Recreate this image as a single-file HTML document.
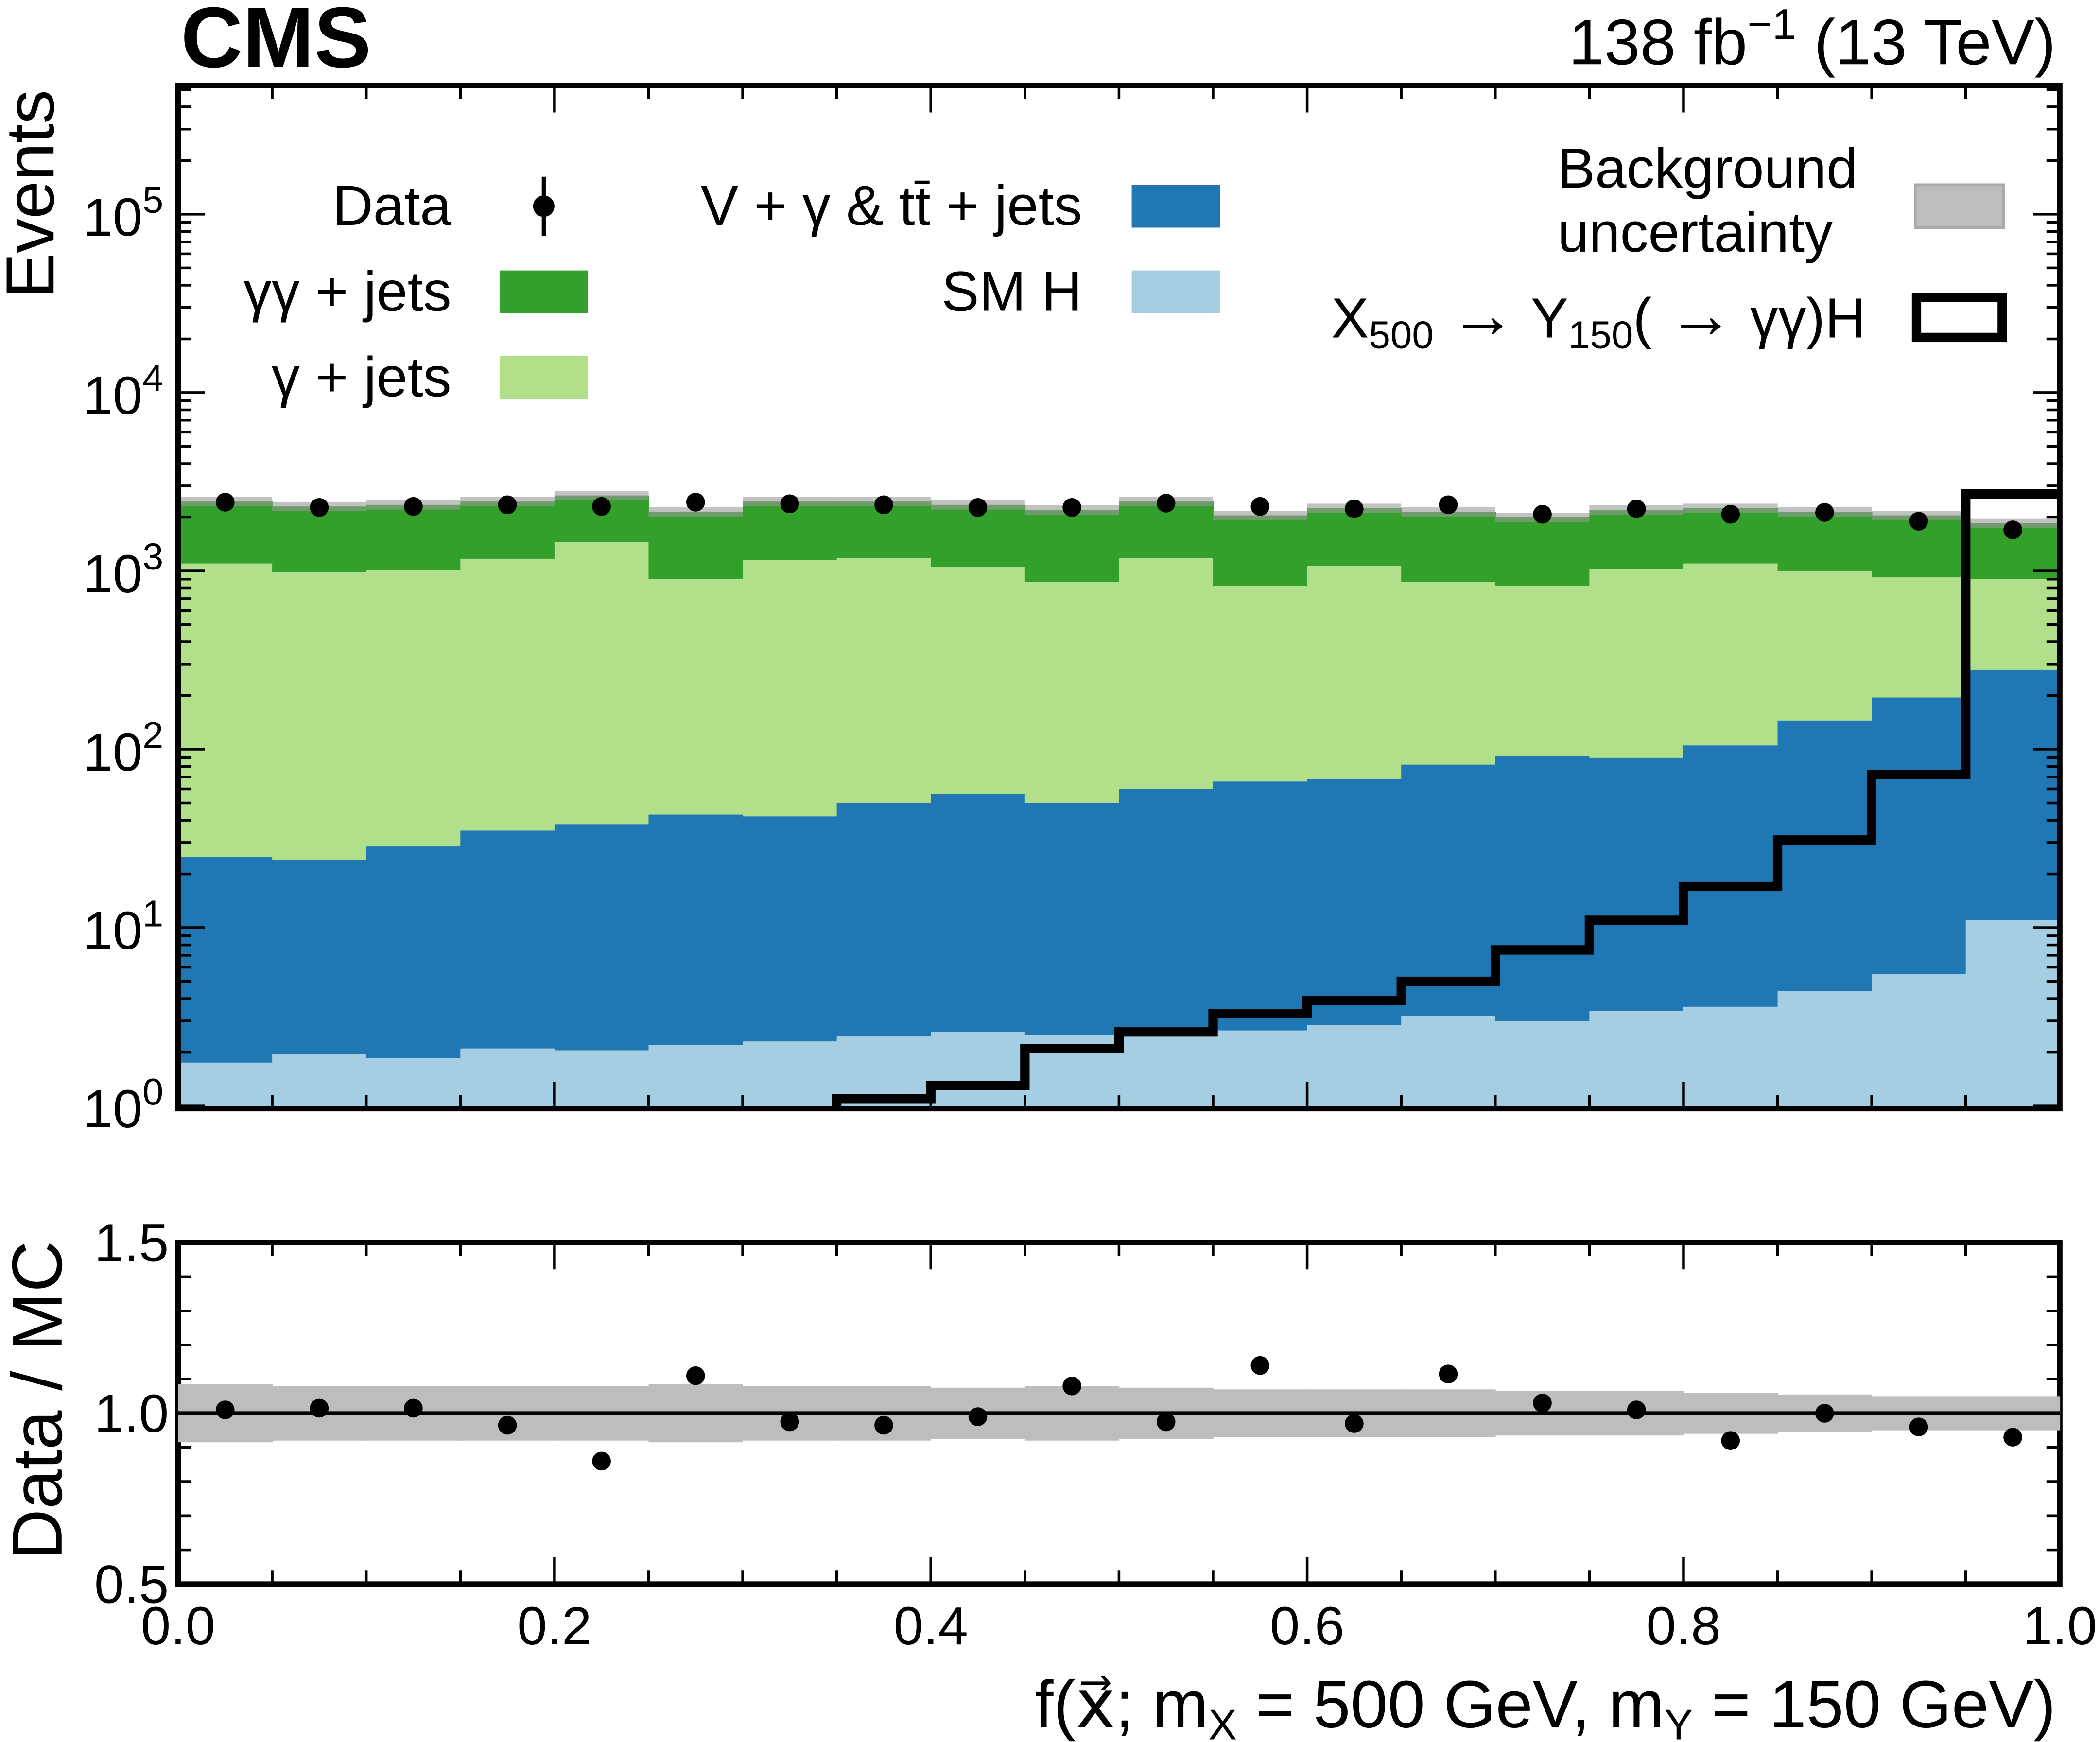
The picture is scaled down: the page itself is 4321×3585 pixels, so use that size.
<!DOCTYPE html>
<html><head><meta charset="utf-8"><style>
html,body{margin:0;padding:0;background:#fff}
svg{display:block}
text{font-family:"Liberation Sans",sans-serif;fill:#000}
</style></head><body>
<svg id="c" width="4321" height="3585" viewBox="0 0 1568 1301" preserveAspectRatio="none" xmlns="http://www.w3.org/2000/svg">
<text x="135" y="50" font-size="64" font-weight="bold">CMS</text>
<text x="1535" y="48" font-size="48" text-anchor="end">138 fb<tspan dy="-19" font-size="32">−1</tspan><tspan dy="19"> (13 TeV)</tspan></text>
<text transform="translate(40,145) rotate(-90)" font-size="51" text-anchor="middle">Events</text>
<text transform="translate(46,1046) rotate(-90)" font-size="53" text-anchor="middle">Data / MC</text>
<text x="1535" y="1290" font-size="50" text-anchor="end">f(x⃗; m<tspan font-size="32" dy="9">X</tspan><tspan dy="-9"> = 500 GeV, m</tspan><tspan font-size="32" dy="9">Y</tspan><tspan dy="-9"> = 150 GeV)</tspan></text>
<g id="main"></g><g id="ratio"></g><g id="legend"></g>
</svg>
<script>
const smH=[1.75,1.95,1.85,2.1,2.05,2.2,2.3,2.45,2.6,2.5,2.55,2.65,2.85,3.2,3.0,3.4,3.6,4.4,5.5,11];
const vgTop=[25,24,28.5,35,38,43,42,50,56,50,60,66,68,82,92,90,105,145,195,280];
const gjTop=[1100,980,1010,1170,1450,900,1150,1180,1050,870,1180,820,1070,870,820,1020,1100,1000,920,900];
const totTop=[2450,2300,2350,2450,2650,2150,2450,2450,2350,2200,2450,2050,2250,2150,2000,2200,2250,2150,2050,1850];
const dataVals=[2430,2270,2300,2350,2300,2430,2380,2350,2270,2270,2400,2300,2230,2350,2080,2230,2080,2130,1900,1700];
const signal=[0.5,0.5,0.5,0.5,0.5,0.5,0.5,1.1,1.3,2.1,2.6,3.3,3.9,5.0,7.5,11,17,31,72,2700];
const ratioVals=[1.01,1.015,1.015,0.965,0.86,1.11,0.975,0.965,0.99,1.08,0.975,1.14,0.97,1.115,1.03,1.01,0.92,1.0,0.96,0.93];
const ratioUnc=[0.085,0.08,0.08,0.08,0.08,0.085,0.08,0.08,0.075,0.08,0.075,0.07,0.07,0.07,0.065,0.065,0.06,0.055,0.05,0.05];
const relUnc=0.06;
const NS="http://www.w3.org/2000/svg";
const L=133,R=1538,T=64,B=828,RT=928,RB=1183;
const X=v=>L+(R-L)*v;
const Y=v=>826-133.2*Math.log10(v);
const YR=v=>RT+(RB-RT)*(1.5-v);
function el(p,tag,a){const e=document.createElementNS(NS,tag);for(const k in a)e.setAttribute(k,a[k]);p.appendChild(e);return e;}
const main=document.getElementById('main'),ratio=document.getElementById('ratio'),leg=document.getElementById('legend');
const clipD=el(main,'defs',{});const cp=el(clipD,'clipPath',{id:'cp'});el(cp,'rect',{x:L,y:T,width:R-L,height:B-T});
const g=el(main,'g',{'clip-path':'url(#cp)'});
const n=smH.length,w=1/n;
for(let i=0;i<n;i++){
 const x0=X(i*w),x1=X((i+1)*w);
 const layers=[[totTop[i],gjTop[i],'#33a02c','gg-jets'],[gjTop[i],vgTop[i],'#b2df8a','g-jets'],[vgTop[i],smH[i],'#1f78b4','vg-ttjets'],[smH[i],0.5,'#a6cee3','sm-h']];
 for(const [top,bot,c,nm] of layers){
  const r=el(g,'rect',{x:x0,y:Y(top),width:x1-x0+0.5,height:Y(bot)-Y(top),fill:c});
  
  
 }
 const u=el(g,'rect',{x:x0,y:Y(totTop[i]*(1+relUnc)),width:x1-x0,height:Y(totTop[i]*(1-relUnc))-Y(totTop[i]*(1+relUnc)),fill:'#999',opacity:0.6});
 
 
 const ru=el(ratio,'rect',{x:x0,y:YR(1+ratioUnc[i]),width:x1-x0+0.3,height:YR(1-ratioUnc[i])-YR(1+ratioUnc[i]),fill:'#bdbdbd'});
 
 
}
let d='';
for(let i=0;i<n;i++){d+=(i?'L':'M')+X(i*w)+','+Y(signal[i])+'L'+X((i+1)*w)+','+Y(signal[i]);}
const sp=el(g,'path',{d:d,fill:'none',stroke:'#000','stroke-width':7});


for(let i=0;i<n;i++){
 const cx=X((i+0.5)*w);
 const p=el(g,'circle',{cx:cx,cy:Y(dataVals[i]),r:7,fill:'#000'});
 
 
 const q=el(ratio,'circle',{cx:cx,cy:YR(ratioVals[i]),r:7,fill:'#000'});
 
 
}
el(ratio,'line',{x1:L,x2:R,y1:YR(1),y2:YR(1),stroke:'#000','stroke-width':3});
for(const [t,b,nm] of [[T,B,'main-frame'],[RT,RB,'ratio-frame']]){
 const f=el(main,'rect',{x:L,y:t,width:R-L,height:b-t,fill:'none',stroke:'#000','stroke-width':4});
 
}
const xTicks=[0,0.2,0.4,0.6,0.8,1.0];
for(let k=0;k<=20;k++){const v=k*0.05,x=X(v),maj=(k%4==0);const len=maj?20:10;
 for(const [t,b] of [[T,B],[RT,RB]]){el(main,'line',{x1:x,x2:x,y1:b,y2:b-len,stroke:'#000','stroke-width':2});el(main,'line',{x1:x,x2:x,y1:t,y2:t+len,stroke:'#000','stroke-width':2});}
}
for(const v of xTicks){const t=el(main,'text',{x:X(v),y:1228,'font-size':40,'text-anchor':'middle'});t.textContent=v.toFixed(1);
 }
for(let e=0;e<=5;e++){
 for(let m=1;m<10;m++){const v=m*Math.pow(10,e);const y=Y(v);if(y<T)continue;const len=m==1?20:10;
  el(main,'line',{x1:L,x2:L+len,y1:y,y2:y,stroke:'#000','stroke-width':2});el(main,'line',{x1:R,x2:R-len,y1:y,y2:y,stroke:'#000','stroke-width':2});}
 const t=el(main,'text',{x:122,y:Y(Math.pow(10,e))+16,'font-size':40,'text-anchor':'end'});
 t.innerHTML='10<tspan dy="-17" font-size="28">'+e+'</tspan>';
 
}
for(let k=0;k<=10;k++){const v=0.5+k*0.1,y=YR(v),len=(k%5==0)?20:10;
 el(main,'line',{x1:L,x2:L+len,y1:y,y2:y,stroke:'#000','stroke-width':2});el(main,'line',{x1:R,x2:R-len,y1:y,y2:y,stroke:'#000','stroke-width':2});}
for(const v of [0.5,1.0,1.5]){const t=el(main,'text',{x:126,y:YR(v)+14,'font-size':40,'text-anchor':'end'});t.textContent=v.toFixed(1);
 }
function lt(x,y,s,nm,anchor){const t=el(leg,'text',{x:x,y:y,'font-size':42,'text-anchor':anchor||'end'});t.innerHTML=s;return t;}
function lb(x,y,wd,h,attrs,nm){const r=el(leg,'rect',Object.assign({x:x,y:y,width:wd,height:h},attrs));}
lt(337,168,'Data','legend-data-label');
el(leg,'line',{x1:406,x2:406,y1:132,y2:176,stroke:'#000','stroke-width':3});el(leg,'circle',{cx:406,cy:154,r:8,fill:'#000'});
lt(337,232,'γγ + jets','legend-gg-label');lb(373,202,66,32,{fill:'#33a02c'},'legend-gg-swatch');
lt(337,296,'γ + jets','legend-g-label');lb(373,266,66,32,{fill:'#b2df8a'},'legend-g-swatch');
lt(808,168,'V + γ &amp; tt̄ + jets','legend-vg-label');lb(845,138,66,32,{fill:'#1f78b4'},'legend-vg-swatch');
lt(808,232,'SM H','legend-smh-label');lb(845,202,66,32,{fill:'#a6cee3'},'legend-smh-swatch');
lt(1163,140,'Background','legend-unc-label','start');lt(1163,188,'uncertainty','legend-unc-label2','start');
lb(1430,138,66,32,{fill:'#bdbdbd',stroke:'#aaa','stroke-width':2},'legend-unc-swatch');
lt(1393,252,'X<tspan font-size="29" dy="8">500</tspan><tspan dy="-8"> <tspan font-size="50">→</tspan> Y</tspan><tspan font-size="29" dy="8">150</tspan><tspan dy="-8">( <tspan font-size="50">→</tspan> γγ)H</tspan>','legend-signal-label');
lb(1431,222,64,30,{fill:'none',stroke:'#000','stroke-width':7},'legend-signal-swatch');
</script>
</body></html>
